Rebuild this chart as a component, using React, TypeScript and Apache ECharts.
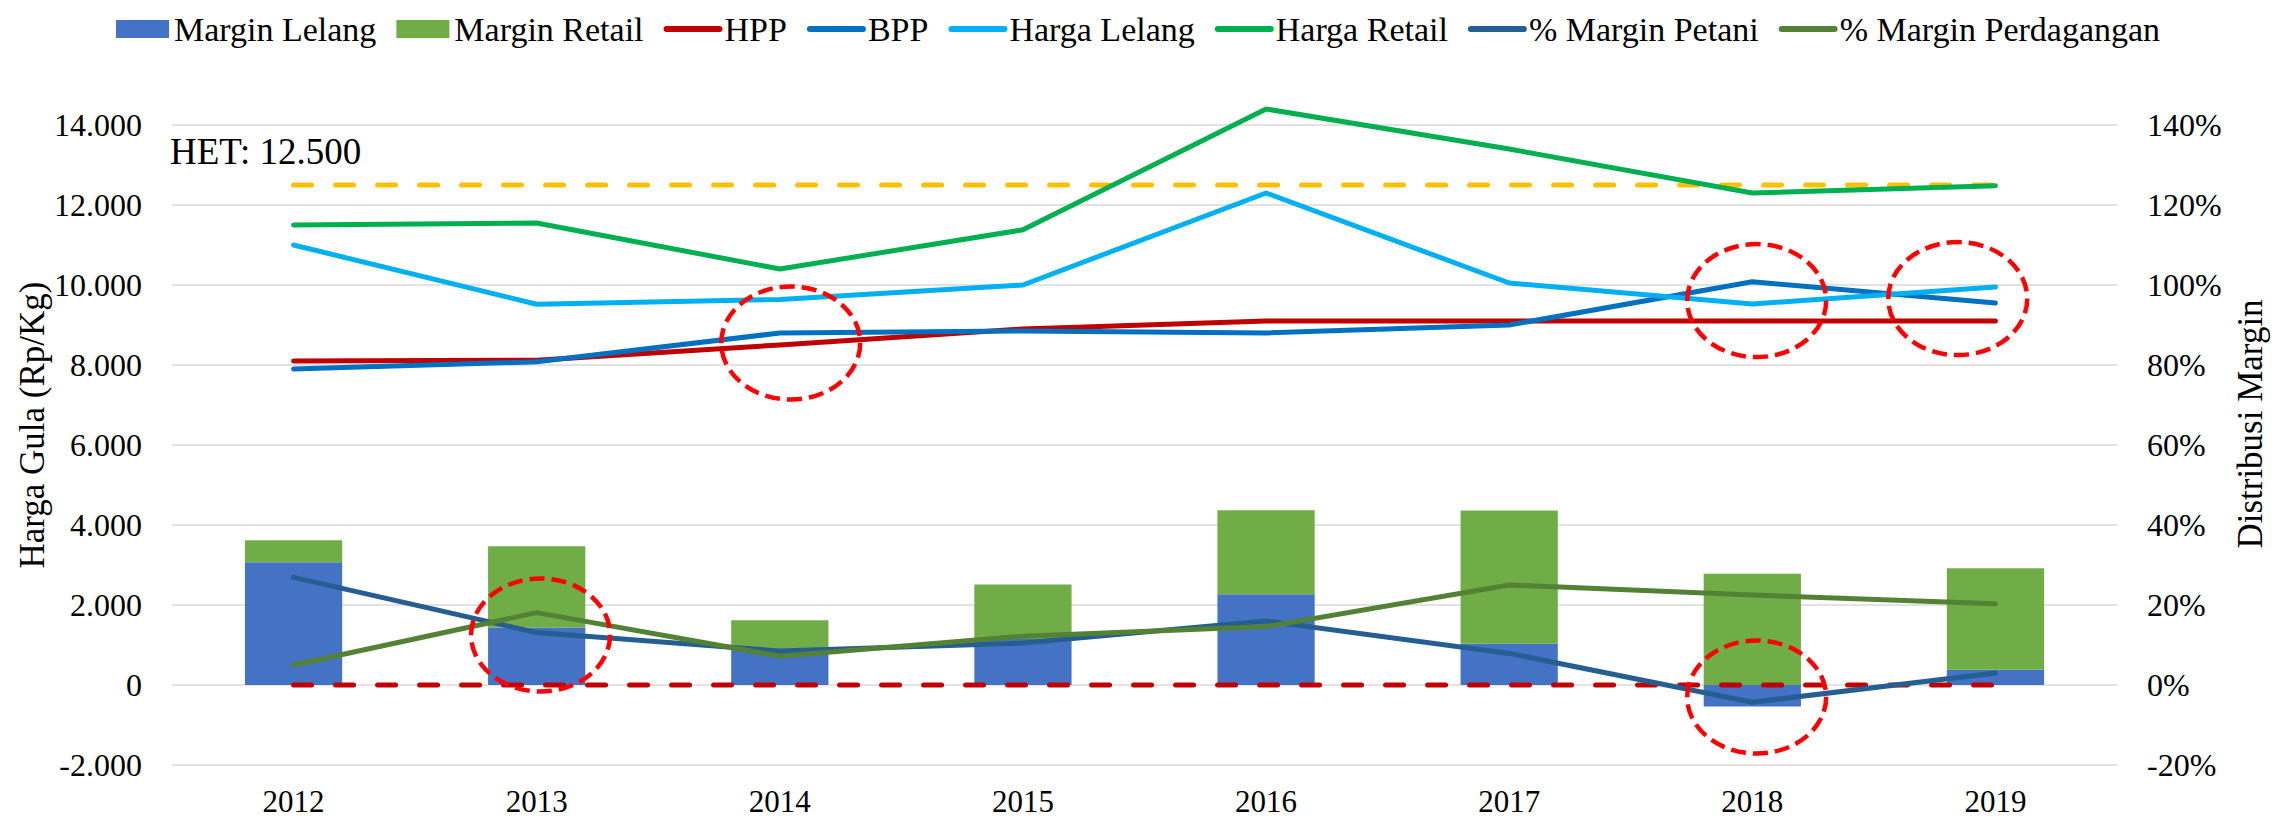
import React, { useEffect, useRef } from "react";
import * as echarts from "echarts";

const categories = ["2012", "2013", "2014", "2015", "2016", "2017", "2018", "2019"];
const marginLelang = [3070, 1440, 900, 1150, 2270, 1030, -540, 380];
const marginRetail = [550, 2030, 720, 1365, 2100, 3330, 2780, 2540];
const hpp = [8100, 8120, 8500, 8900, 9100, 9100, 9100, 9100];
const bpp = [7900, 8080, 8800, 8850, 8800, 9000, 10080, 9550];
const hargaLelang = [11000, 9520, 9640, 10000, 12300, 10050, 9525, 9950];
const hargaRetail = [11500, 11550, 10400, 11380, 14400, 13400, 12300, 12480];
const pctPetani = [26.9, 13.1, 8.5, 10.5, 16.0, 7.9, -4.3, 3.0];
const pctPerdagangan = [5.0, 18.1, 7.2, 12.2, 14.6, 25.0, 22.5, 20.3];
const hetLine = [12500, 12500, 12500, 12500, 12500, 12500, 12500, 12500];
const zeroLine = [0, 0, 0, 0, 0, 0, 0, 0];
const leftAxis = { min: -2000, max: 14000, interval: 2000 };
const rightAxis = { min: -20, max: 140, interval: 20 };
// annotation ellipses: [fractional category index, left-axis value]
const annotations: [number, number][] = [
  [2.045, 8550],
  [1.016, 1250],
  [6.018, 9610],
  [6.845, 9660],
  [6.018, -300],
];

const FONT = "'Liberation Serif', 'Times New Roman', serif";

const fmtThousands = (v: number) => {
  const s = String(Math.abs(v)).replace(/\B(?=(\d{3})+(?!\d))/g, ".");
  return (v < 0 ? "-" : "") + s;
};

export default function App() {
  const ref = useRef<HTMLDivElement>(null);

  useEffect(() => {
    document.body.style.margin = "0";
    if (!ref.current) return;
    const chart = echarts.init(ref.current, undefined, { renderer: "svg" });

    const LW = 5;

    const lineBase = (name: string, data: number[], color: string, yAxisIndex = 0, z = 5) => ({
      name,
      type: "line",
      data,
      yAxisIndex,
      symbol: "none",
      clip: false,
      z,
      lineStyle: { color, width: LW, cap: "round", join: "round" },
      itemStyle: { color },
    });

    const lineLegend = (name: string) => ({
      name,
      itemStyle: { opacity: 0 },
    });

    chart.setOption({
      animation: false,
      backgroundColor: "#ffffff",
      textStyle: { fontFamily: FONT },
      legend: {
        left: 111,
        top: 7,
        itemWidth: 53,
        itemHeight: 18,
        itemGap: 20,
        lineStyle: { width: 6, cap: "round" },
        textStyle: { fontSize: 34, fontFamily: FONT, color: "#000" },
        data: [
          { name: "Margin Lelang", icon: "rect" },
          { name: "Margin Retail", icon: "rect" },
          lineLegend("HPP"),
          lineLegend("BPP"),
          lineLegend("Harga Lelang"),
          lineLegend("Harga Retail"),
          lineLegend("% Margin Petani"),
          lineLegend("% Margin Perdagangan"),
        ],
      },
      grid: { left: 172, right: 155, top: 125, bottom: 57, containLabel: false },
      xAxis: {
        type: "category",
        data: categories,
        axisLine: { show: false, onZero: false },
        axisTick: { show: false },
        axisLabel: {
          fontSize: 31,
          lineHeight: 28,
          fontFamily: FONT,
          color: "#000",
          margin: 22,
        },
      },
      yAxis: [
        {
          type: "value",
          min: leftAxis.min,
          max: leftAxis.max,
          interval: leftAxis.interval,
          axisLine: { show: false },
          axisTick: { show: false },
          axisLabel: {
            fontSize: 32,
            fontFamily: FONT,
            color: "#000",
            margin: 30,
            formatter: (v: number) => fmtThousands(v),
          },
          splitLine: { lineStyle: { color: "#D9D9D9", width: 1.5 } },
        },
        {
          type: "value",
          min: rightAxis.min,
          max: rightAxis.max,
          interval: rightAxis.interval,
          position: "right",
          axisLine: { show: false },
          axisTick: { show: false },
          axisLabel: {
            fontSize: 32,
            fontFamily: FONT,
            color: "#000",
            margin: 30,
            formatter: (v: number) => `${v}%`,
          },
          splitLine: { show: false },
        },
      ],
      series: [
        {
          name: "Margin Lelang",
          type: "bar",
          stack: "margin",
          data: marginLelang,
          barWidth: "40%",
          itemStyle: { color: "#4472C4" },
          z: 2,
        },
        {
          name: "Margin Retail",
          type: "bar",
          stack: "margin",
          data: marginRetail,
          barWidth: "40%",
          itemStyle: { color: "#70AD47" },
          z: 2,
        },
        {
          name: "HET",
          type: "line",
          data: hetLine,
          symbol: "none",
          z: 4,
          lineStyle: { color: "#FFC000", width: LW, type: [18, 24], cap: "round" },
          itemStyle: { color: "#FFC000" },
        },
        {
          name: "Nol",
          type: "line",
          data: zeroLine,
          symbol: "none",
          z: 4,
          lineStyle: { color: "#C00000", width: LW, type: [18, 24], cap: "round" },
          itemStyle: { color: "#C00000" },
        },
        lineBase("HPP", hpp, "#C00000"),
        lineBase("BPP", bpp, "#0070C0"),
        lineBase("Harga Lelang", hargaLelang, "#00B0F0"),
        lineBase("Harga Retail", hargaRetail, "#00B050"),
        lineBase("% Margin Petani", pctPetani, "#255E91", 1, 6),
        lineBase("% Margin Perdagangan", pctPerdagangan, "#548235", 1, 6),
      ],
    });

    const xPix = (f: number) => {
      const i0 = Math.floor(f);
      const i1 = Math.min(i0 + 1, categories.length - 1);
      const p0 = chart.convertToPixel({ xAxisIndex: 0 }, i0) as number;
      const p1 = chart.convertToPixel({ xAxisIndex: 0 }, i1) as number;
      const step = i1 > i0 ? p1 - p0 : 0;
      return p0 + (f - i0) * step;
    };
    const yPix = (v: number) => chart.convertToPixel({ yAxisIndex: 0 }, v) as number;

    const ellipses = annotations.map(([fx, vy]) => ({
      type: "ellipse",
      z: 100,
      shape: { cx: xPix(fx), cy: yPix(vy), rx: 69.5, ry: 56.5 },
      style: { fill: "none", stroke: "#FF0000", lineWidth: 4.5, lineDash: [15, 7] },
    }));

    chart.setOption({
      graphic: [
        {
          type: "text",
          left: 170,
          top: 133,
          z: 100,
          style: { text: `HET: ${fmtThousands(hetLine[0])}`, font: `37px ${FONT}`, fill: "#000" },
        },
        {
          type: "text",
          x: 32,
          y: 425,
          rotation: Math.PI / 2,
          z: 100,
          style: {
            text: "Harga Gula (Rp/Kg)",
            font: `35px ${FONT}`,
            fill: "#000",
            align: "center",
            verticalAlign: "middle",
          },
        },
        {
          type: "text",
          x: 2250,
          y: 424,
          rotation: Math.PI / 2,
          z: 100,
          style: {
            text: "Distribusi Margin",
            font: `35px ${FONT}`,
            fill: "#000",
            align: "center",
            verticalAlign: "middle",
          },
        },
        ...ellipses,
      ],
    });

    return () => chart.dispose();
  }, []);

  return <div ref={ref} style={{ width: 2272, height: 822 }} />;
}
